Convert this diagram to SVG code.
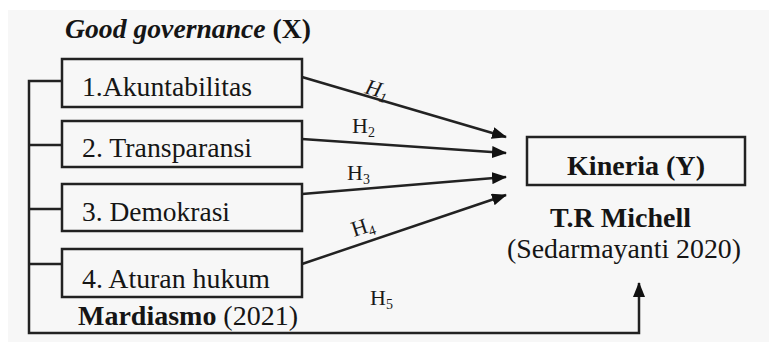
<svg xmlns="http://www.w3.org/2000/svg" width="769" height="342" viewBox="0 0 769 342">
<style>
.bg{fill:#f7f7f7}
.box{fill:none;stroke:#222;stroke-width:2.5}
.ln{fill:none;stroke:#222;stroke-width:2.5}
.t{font-family:"Liberation Serif","Times New Roman",serif;font-size:27px;fill:#151515}
.b{font-weight:bold}
.h{font-family:"Liberation Serif","Times New Roman",serif;font-size:22px;fill:#1a1a1a}
.sub{font-size:14px}
</style>
<defs>
<marker id="ah" markerUnits="userSpaceOnUse" markerWidth="15" markerHeight="12" refX="14" refY="6" orient="auto">
<path d="M0,0 L15,6 L0,12 Z" fill="#111"/>
</marker>
</defs>
<rect class="bg" x="8" y="10" width="761" height="332"/>
<text class="t b" x="65" y="38" textLength="246" lengthAdjust="spacingAndGlyphs"><tspan font-style="italic">Good governance</tspan> (X)</text>
<g id="n1">
<rect class="box" x="62" y="59" width="240" height="48"/>
<text class="t" x="82" y="96" textLength="170" lengthAdjust="spacingAndGlyphs">1.Akuntabilitas</text>
</g>
<g id="n2">
<rect class="box" x="62" y="121" width="240" height="46"/>
<text class="t" x="82" y="157" textLength="170" lengthAdjust="spacingAndGlyphs">2. Transparansi</text>
</g>
<g id="n3">
<rect class="box" x="62" y="184" width="240" height="47"/>
<text class="t" x="82" y="221" textLength="148" lengthAdjust="spacingAndGlyphs">3. Demokrasi</text>
</g>
<g id="n4">
<rect class="box" x="62" y="249" width="240" height="48"/>
<text class="t" x="82" y="288" textLength="188" lengthAdjust="spacingAndGlyphs">4. Aturan hukum</text>
</g>
<text class="t" x="78" y="325" textLength="220" lengthAdjust="spacingAndGlyphs"><tspan class="b">Mardiasmo</tspan> (2021)</text>
<g id="ny">
<rect class="box" x="527" y="137" width="218" height="48"/>
<text class="t b" x="567" y="175" textLength="138" lengthAdjust="spacingAndGlyphs">Kineria (Y)</text>
</g>
<text class="t b" x="550" y="227" textLength="141" lengthAdjust="spacingAndGlyphs">T.R Michell</text>
<text class="t" x="507" y="258" textLength="234" lengthAdjust="spacingAndGlyphs">(Sedarmayanti 2020)</text>
<g id="connectors">
<polyline class="ln" points="62,81 29,81 29,333 639,333 639,283" marker-end="url(#ah)"/>
<line class="ln" x1="29" y1="145" x2="62" y2="145"/>
<line class="ln" x1="29" y1="209" x2="62" y2="209"/>
<line class="ln" x1="29" y1="264" x2="62" y2="264"/>
<line class="ln" x1="302" y1="77" x2="506" y2="137" marker-end="url(#ah)"/>
<line class="ln" x1="302" y1="139" x2="506" y2="153" marker-end="url(#ah)"/>
<line class="ln" x1="302" y1="194" x2="506" y2="177" marker-end="url(#ah)"/>
<line class="ln" x1="302" y1="264" x2="506" y2="195" marker-end="url(#ah)"/>
</g>
<text class="h" font-style="italic" transform="translate(364,93) rotate(16)">H<tspan class="sub" dy="4">1</tspan></text>
<text class="h" x="352" y="133">H<tspan class="sub" dy="4">2</tspan></text>
<text class="h" x="347" y="180">H<tspan class="sub" dy="4">3</tspan></text>
<text class="h" transform="translate(354,237) rotate(-18)">H<tspan class="sub" dy="4">4</tspan></text>
<text class="h" x="370" y="305">H<tspan class="sub" dy="4">5</tspan></text>
</svg>
